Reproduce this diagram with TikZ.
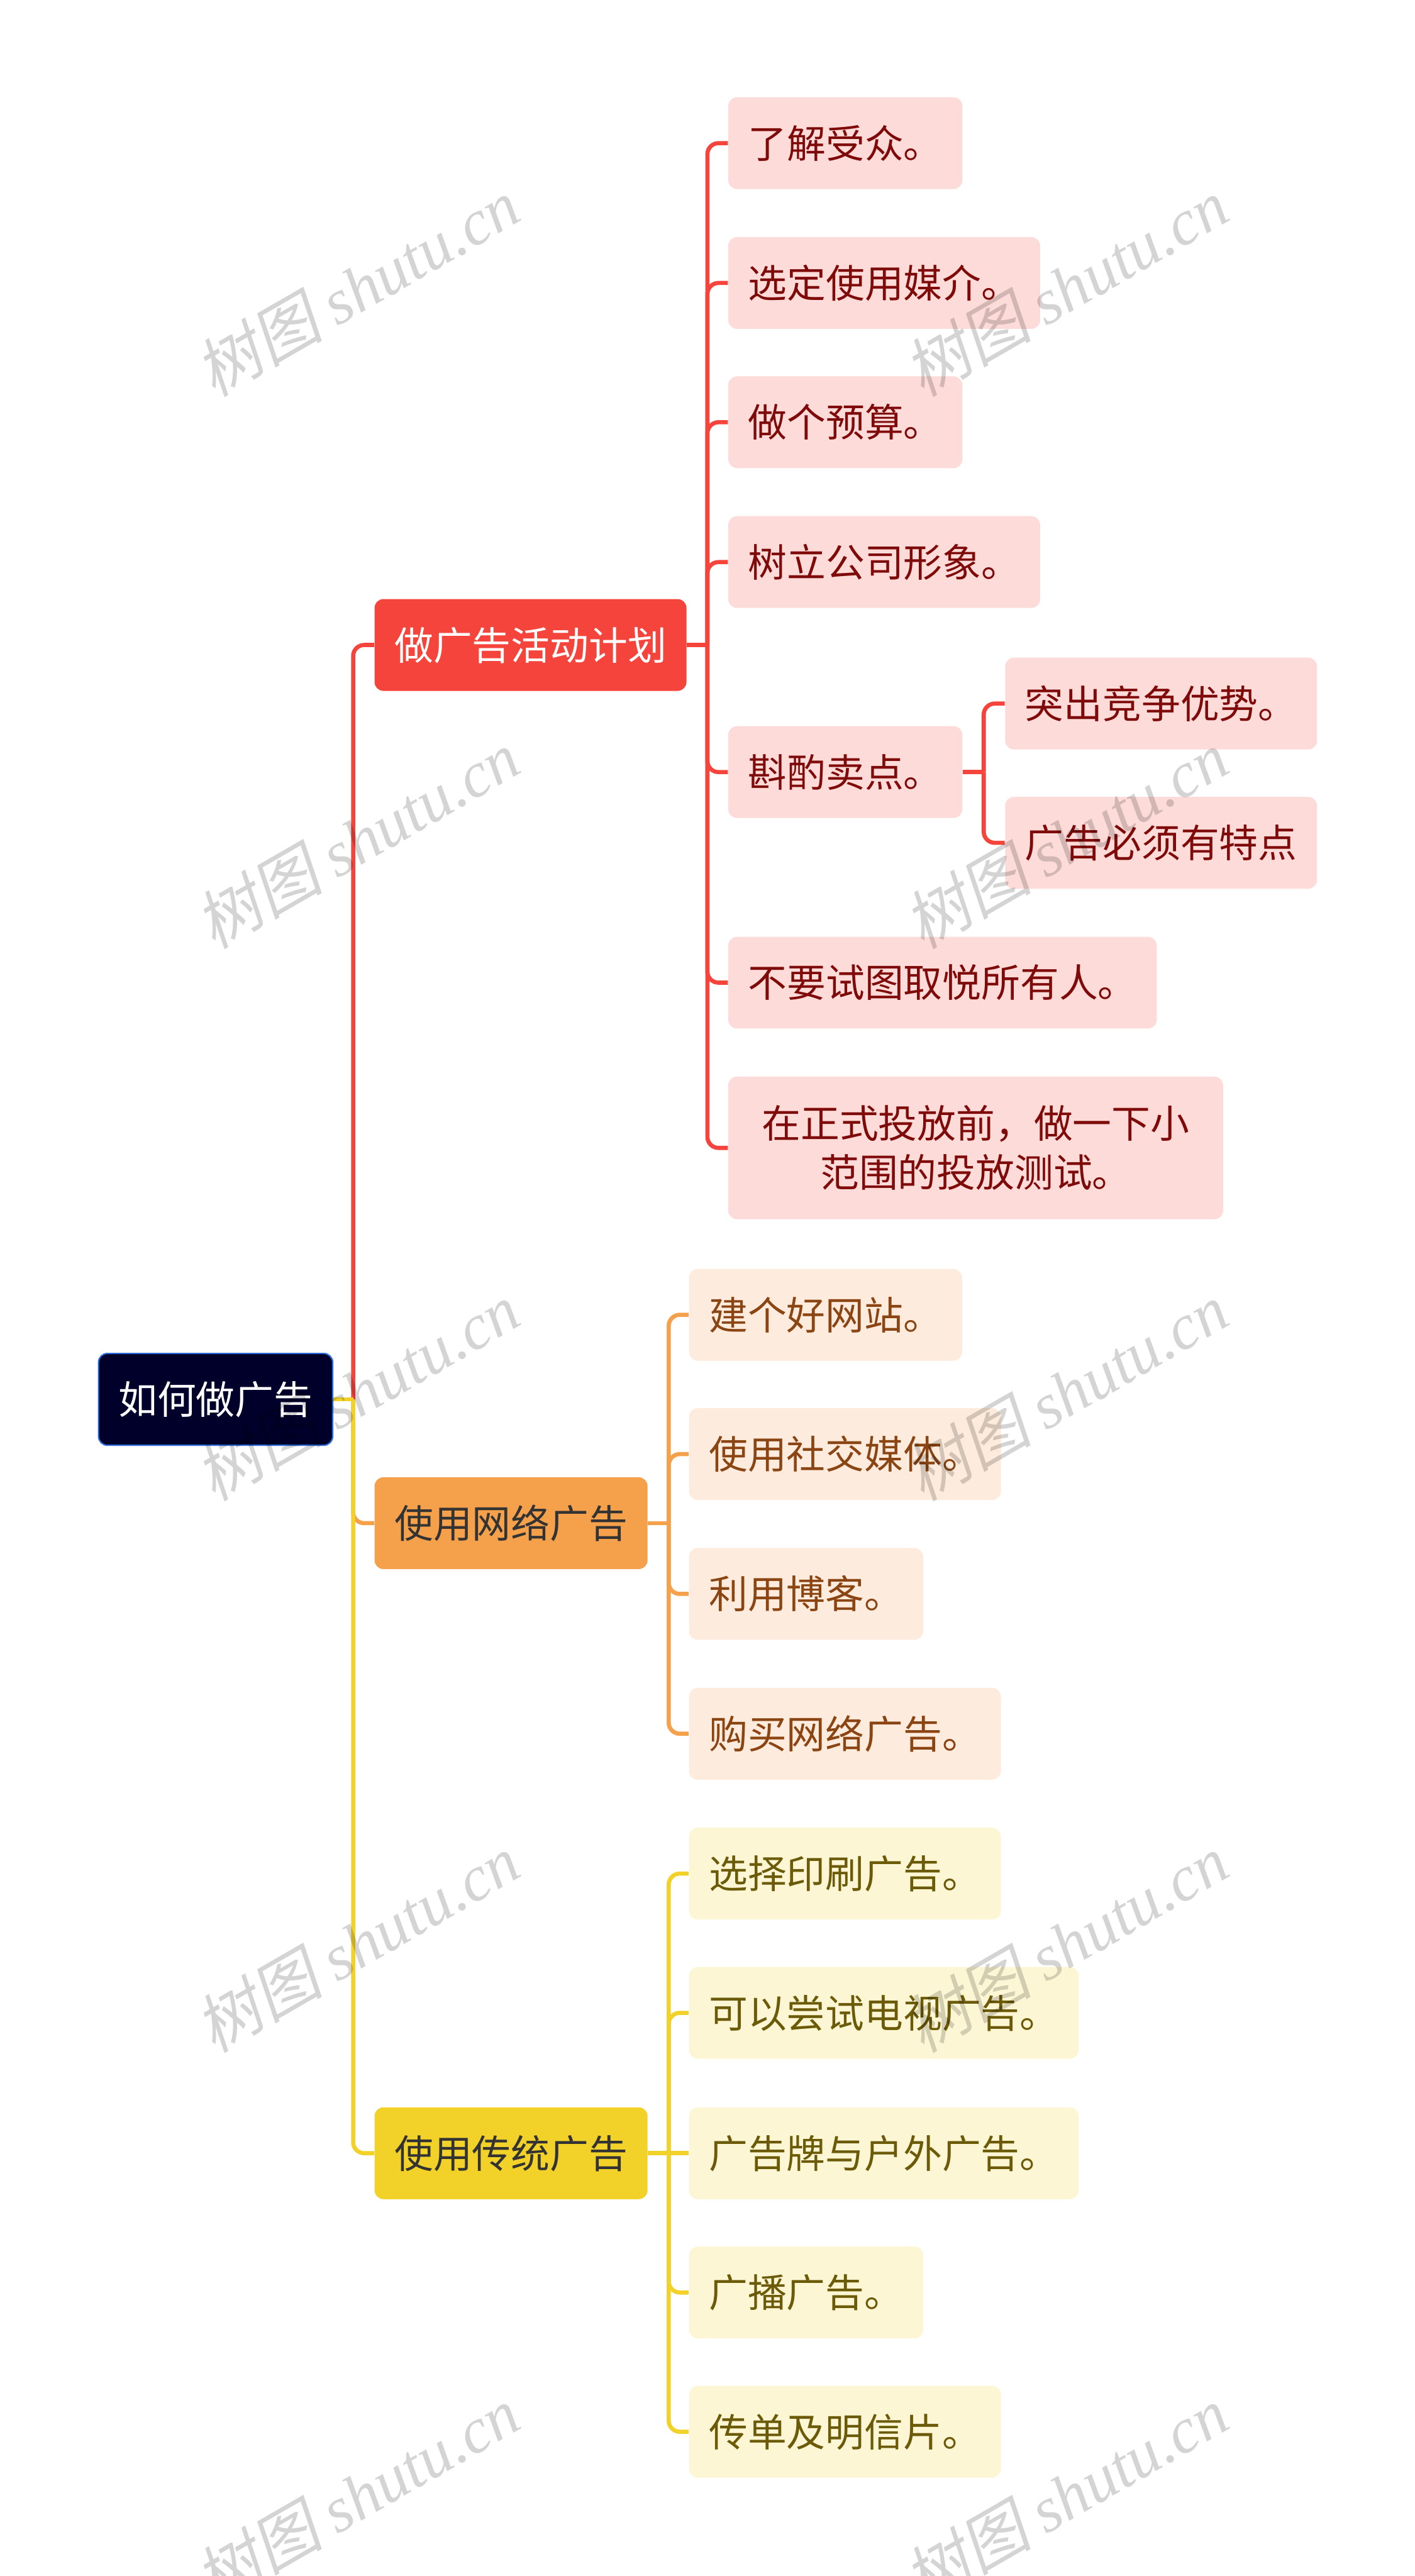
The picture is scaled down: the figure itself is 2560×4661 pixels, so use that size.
\documentclass[tikz,border=0pt]{standalone}
\usepackage{fontspec}
\newfontfamily\cjk{Noto Sans CJK SC}
\newfontfamily\wmcjk[FakeSlant=0.2]{Noto Sans CJK SC}
\newfontfamily\wmlat{Liberation Serif}
\definecolor{rootfill}{HTML}{00002A}
\definecolor{rootline}{HTML}{2F6FDC}
\definecolor{redc}{HTML}{F5443B}
\definecolor{orangec}{HTML}{F5A04B}
\definecolor{yellowc}{HTML}{F2D229}
\definecolor{redlight}{HTML}{FDDBD9}
\definecolor{orangelight}{HTML}{FDEBDD}
\definecolor{yellowlight}{HTML}{FDF6D4}
\definecolor{redtext}{HTML}{7F0A0A}
\definecolor{orangetext}{HTML}{8B4513}
\definecolor{yellowtext}{HTML}{6B5A08}
\definecolor{darktext}{HTML}{333333}
\begin{document}
\begin{tikzpicture}[x=0.01cm,y=-0.01cm,
  base/.style={rounded corners=0.16cm, inner xsep=0.36cm, inner ysep=0pt,
    minimum height=1.66cm, anchor=west,
    font=\cjk\fontsize{20pt}{25pt}\selectfont,
    text height=17.6pt, text depth=2.4pt},
  rootbox/.style={base, fill=rootfill, draw=rootline, line width=0.025cm, text=white},
  redbranch/.style={base, fill=redc, text=white},
  orangebranch/.style={base, fill=orangec, text=darktext},
  yellowbranch/.style={base, fill=yellowc, text=darktext},
  redleaf/.style={base, fill=redlight, text=redtext},
  orangeleaf/.style={base, fill=orangelight, text=orangetext},
  yellowleaf/.style={base, fill=yellowlight, text=yellowtext},
  conn/.style={line width=0.075cm, rounded corners=0.2cm},
  wm/.style={rotate=30, text=black, text opacity=0.17,
    font=\fontsize{33pt}{40pt}\selectfont, inner sep=0pt}
]
\fill[white] (0,0) rectangle (2560,4661);
\useasboundingbox (0,0) rectangle (2560,4661);

% root and branches
\node[rootbox] (root) at (177,2532) {如何做广告};
\node[redbranch] (b1) at (677,1167) {做广告活动计划};
\node[orangebranch] (b2) at (677,2756) {使用网络广告};
\node[yellowbranch] (b3) at (677,3896) {使用传统广告};

% branch 1 leaves
\node[redleaf] (r1) at (1317,259) {了解受众。};
\node[redleaf] (r2) at (1317,512) {选定使用媒介。};
\node[redleaf] (r3) at (1317,764) {做个预算。};
\node[redleaf] (r4) at (1317,1017) {树立公司形象。};
\node[redleaf] (r5) at (1317,1397) {斟酌卖点。};
\node[redleaf] (r5a) at (1818,1273) {突出竞争优势。};
\node[redleaf] (r5b) at (1818,1525) {广告必须有特点};
\node[redleaf] (r6) at (1317,1778) {不要试图取悦所有人。};
\node[redleaf, minimum height=2.58cm, text width=7.8cm, inner xsep=0.575cm,
  align=center, text height=, text depth=,
  font=\cjk\fontsize{20pt}{25.3pt}\selectfont] (r7) at (1317,2077)
  {在正式投放前，做一下小\\范围的投放测试。};

% branch 2 leaves
\node[orangeleaf] (o1) at (1246,2379) {建个好网站。};
\node[orangeleaf] (o2) at (1246,2631) {使用社交媒体。};
\node[orangeleaf] (o3) at (1246,2884) {利用博客。};
\node[orangeleaf] (o4) at (1246,3137) {购买网络广告。};

% branch 3 leaves
\node[yellowleaf] (y1) at (1246,3390) {选择印刷广告。};
\node[yellowleaf] (y2) at (1246,3642) {可以尝试电视广告。};
\node[yellowleaf] (y3) at (1246,3896) {广告牌与户外广告。};
\node[yellowleaf] (y4) at (1246,4148) {广播广告。};
\node[yellowleaf] (y5) at (1246,4400) {传单及明信片。};

% junction coordinates
\coordinate (j0) at (639,2532);
\coordinate (j1) at (1280,1167);
\coordinate (j15) at (1780,1397);
\coordinate (j2) at (1210,2756);
\coordinate (j3) at (1210,3896);

% root connectors
\draw[conn, redc] (j0) -- (j0 |- b1.west) -- (b1.west);
\draw[conn, orangec] (j0) -- (j0 |- b2.west) -- (b2.west);
\draw[conn, yellowc] (j0) -- (j0 |- b3.west) -- (b3.west);
\draw[conn, yellowc] (root.east) -- (j0);

% branch 1 connectors
\draw[conn, redc] (b1.east) -- (j1);
\foreach \n in {r1,r2,r3,r4,r5,r6,r7}
  \draw[conn, redc] (j1) -- (j1 |- \n.west) -- (\n.west);
\draw[conn, redc] (r5.east) -- (j15);
\foreach \n in {r5a,r5b}
  \draw[conn, redc] (j15) -- (j15 |- \n.west) -- (\n.west);

% branch 2 connectors
\draw[conn, orangec] (b2.east) -- (j2);
\foreach \n in {o1,o2,o3,o4}
  \draw[conn, orangec] (j2) -- (j2 |- \n.west) -- (\n.west);

% branch 3 connectors
\draw[conn, yellowc] (b3.east) -- (j3);
\foreach \n in {y1,y2,y4,y5}
  \draw[conn, yellowc] (j3) -- (j3 |- \n.west) -- (\n.west);
\draw[conn, yellowc] (j3) -- (y3.west);

% watermarks
\foreach \i/\yy in {1/520,2/1519,3/2518,4/3516,5/4515}{
  \node[wm] (wl\i) at (646,\yy) {\wmcjk 树图 \wmlat\itshape shutu.cn};
  \node[wm] (wr\i) at (1928,\yy) {\wmcjk 树图 \wmlat\itshape shutu.cn};
}
\end{tikzpicture}
\end{document}
